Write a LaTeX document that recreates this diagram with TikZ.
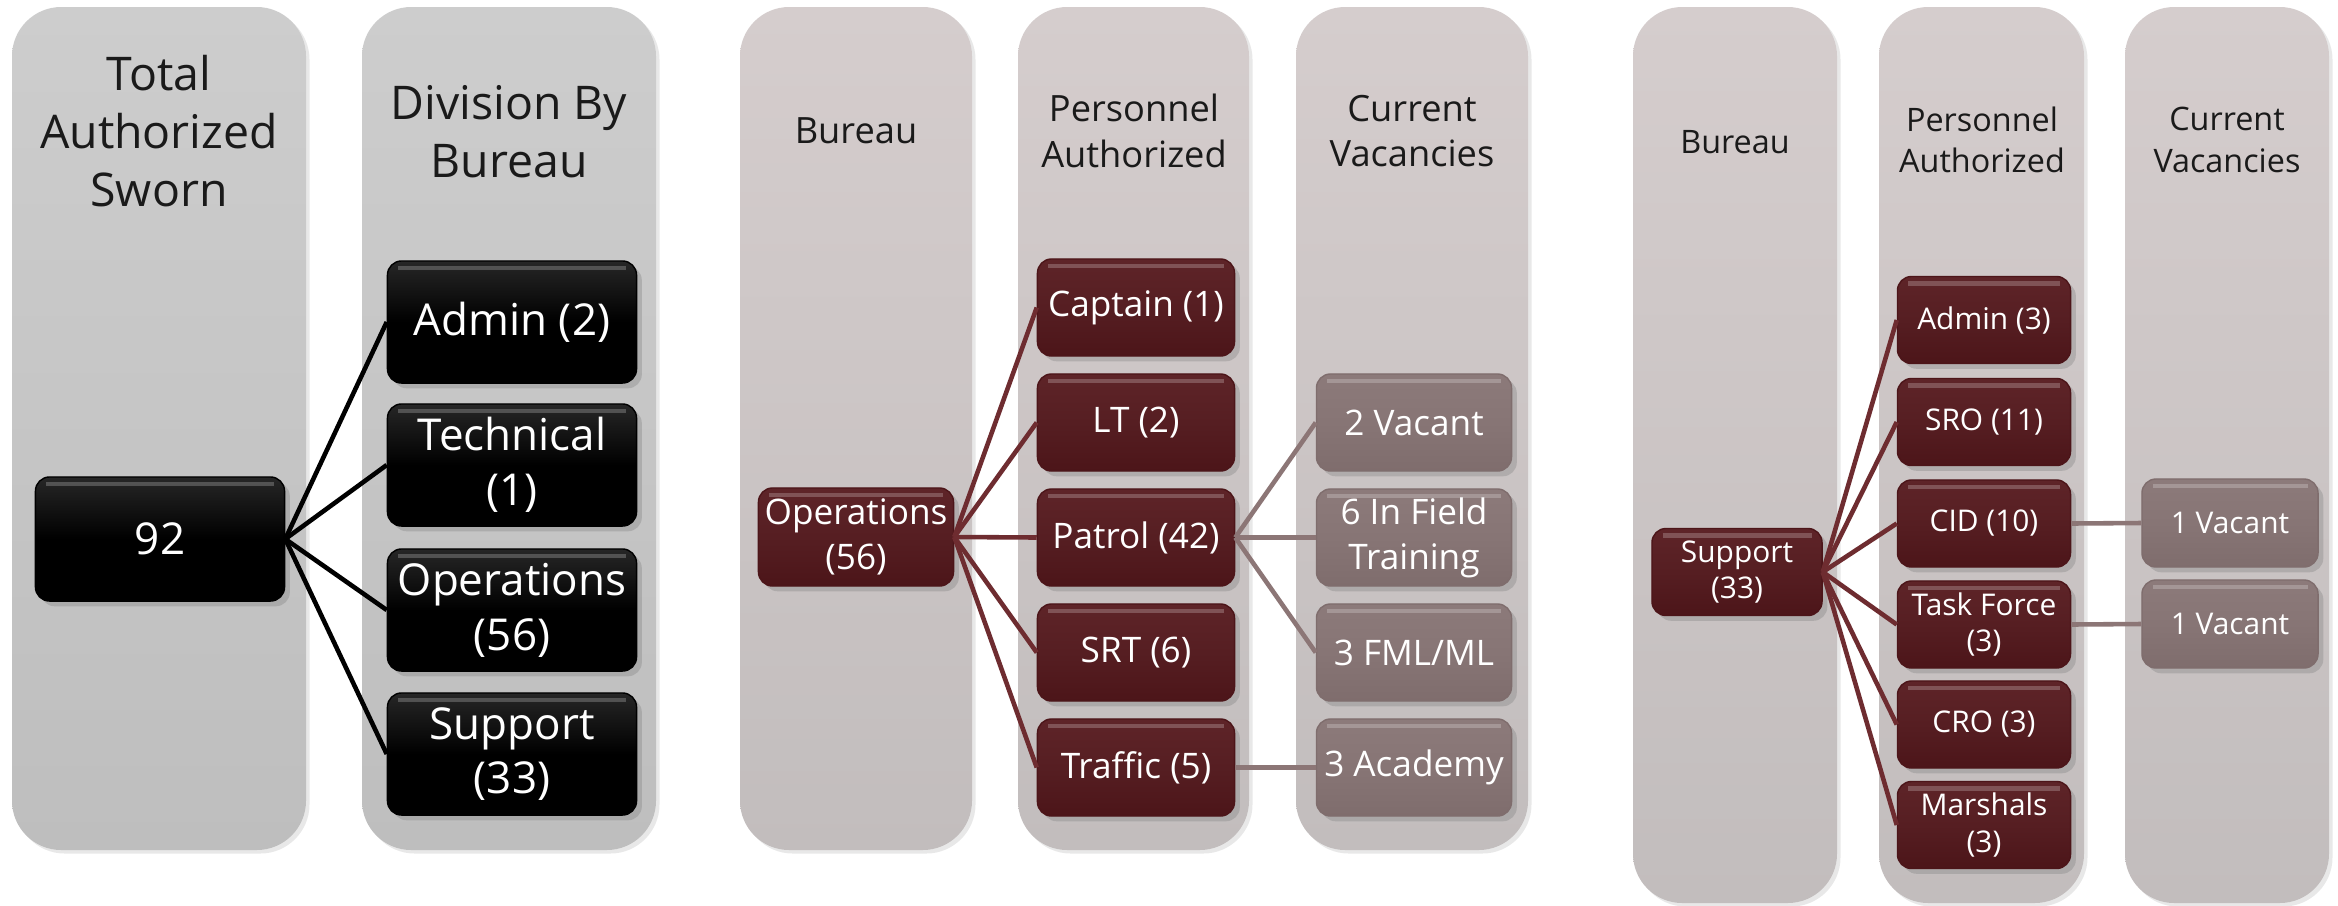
\documentclass[tikz,border=0pt]{standalone}
\usepackage{fontspec}
\setmainfont{Open Sans}
\usetikzlibrary{shadows}
\definecolor{gTop}{HTML}{CDCDCD}
\definecolor{gBot}{HTML}{BEBEBE}
\definecolor{mTop}{HTML}{D5CDCD}
\definecolor{mBot}{HTML}{C2BDBD}
\definecolor{redfill}{HTML}{561E22}
\definecolor{redtop}{HTML}{5E2428}
\definecolor{redbot}{HTML}{4C1519}
\definecolor{redline}{HTML}{6E2C30}
\definecolor{vacfill}{HTML}{877575}
\definecolor{vactop}{HTML}{8C7A7A}
\definecolor{vacbot}{HTML}{7F6D6D}
\definecolor{vacline}{HTML}{8C7676}
\definecolor{titletext}{HTML}{1A1A1A}
\begin{document}
\begin{tikzpicture}[x=0.01cm,y=-0.01cm,
  colgray/.style={rounded corners=14pt, top color=gTop, bottom color=gBot, draw=none,
    drop shadow={opacity=0.18, shadow xshift=1pt, shadow yshift=-1pt}},
  colmauve/.style={rounded corners=14pt, top color=mTop, bottom color=mBot, draw=none,
    drop shadow={opacity=0.18, shadow xshift=1pt, shadow yshift=-1pt}},
  gloss/.style={path picture={
    \draw[white,opacity=0.22,line width=1.2pt]
      ([xshift=3pt,yshift=-2pt]path picture bounding box.north west) --
      ([xshift=-3pt,yshift=-2pt]path picture bounding box.north east);}},
  boxbase/.style={rounded corners=4pt, text=white, align=center, inner sep=1pt, gloss,
    drop shadow={opacity=0.35, shadow xshift=1.5pt, shadow yshift=-1.5pt}},
  blkbox/.style={boxbase, top color=black!85, bottom color=black, middle color=black,
    draw=black, font=\fontsize{12.5}{15.6}\selectfont},
  redbox/.style={boxbase, top color=redtop, bottom color=redbot, middle color=redfill,
    draw=redbot},
  vacbox/.style={boxbase, top color=vactop, bottom color=vacbot, middle color=vacfill,
    draw=vacbot},
  ttlA/.style={text=titletext, align=center, font=\fontsize{13.2}{16.5}\selectfont},
  ttlB/.style={text=titletext, align=center, font=\fontsize{10.3}{13}\selectfont},
  ttlC/.style={text=titletext, align=center, font=\fontsize{9.2}{11.7}\selectfont},
  txtB/.style={font=\fontsize{10}{12.8}\selectfont},
  txtC/.style={font=\fontsize{8.5}{10.5}\selectfont},
  blkline/.style={draw=black, line width=1.3pt},
  rline/.style={draw=redline, line width=1.3pt},
  vline/.style={draw=vacline, line width=1.3pt}
]
\useasboundingbox[fill=white] (0,0) rectangle (2338,905);

% ---------- Panel 1 ----------
\path[colgray] (12,7) rectangle (306,850);
\path[colgray] (362,7) rectangle (656,850);
\node[ttlA] (tA) at (159,131) {Total\\Authorized\\Sworn};
\node[ttlA] (tB) at (509,132) {Division By\\Bureau};

\node[blkbox, minimum width=2.49cm, minimum height=1.24cm] (n92) at (160,539) {92};
\node[blkbox, minimum width=2.49cm, minimum height=1.22cm] (adm) at (512,322) {Admin (2)};
\node[blkbox, minimum width=2.49cm, minimum height=1.22cm] (tec) at (512,465) {Technical\\(1)};
\node[blkbox, minimum width=2.49cm, minimum height=1.22cm] (ops) at (512,610) {Operations\\(56)};
\node[blkbox, minimum width=2.49cm, minimum height=1.22cm] (sup) at (512,754) {Support\\(33)};
\foreach \t in {adm,tec,ops,sup} \draw[blkline] (n92.east) -- (\t.west);

% ---------- Panel 2 ----------
\path[colmauve] (740,7) rectangle (972,850);
\path[colmauve] (1018,7) rectangle (1249,850);
\path[colmauve] (1296,7) rectangle (1528,850);
\node[ttlB] (tC) at (856,131) {Bureau};
\node[ttlB] (tD) at (1134,131) {Personnel\\Authorized};
\node[ttlB] (tE) at (1412,131) {Current\\Vacancies};

\node[redbox, txtB, minimum width=1.95cm, minimum height=0.98cm] (op2) at (856,537) {Operations\\(56)};
\node[redbox, txtB, minimum width=1.97cm, minimum height=0.97cm] (cap) at (1136,307.5) {Captain (1)};
\node[redbox, txtB, minimum width=1.97cm, minimum height=0.97cm] (lt) at (1136,422.5) {LT (2)};
\node[redbox, txtB, minimum width=1.97cm, minimum height=0.97cm] (pat) at (1136,537.5) {Patrol (42)};
\node[redbox, txtB, minimum width=1.97cm, minimum height=0.97cm] (srt) at (1136,652.5) {SRT (6)};
\node[redbox, txtB, minimum width=1.97cm, minimum height=0.97cm] (trf) at (1136,767.5) {Traffic (5)};
\node[vacbox, txtB, minimum width=1.95cm, minimum height=0.97cm] (v2) at (1414,422.5) {2 Vacant};
\node[vacbox, txtB, minimum width=1.95cm, minimum height=0.97cm] (v6) at (1414,537.5) {6 In Field\\Training};
\node[vacbox, txtB, minimum width=1.95cm, minimum height=0.97cm] (v3f) at (1414,652.5) {3 FML/ML};
\node[vacbox, txtB, minimum width=1.95cm, minimum height=0.97cm] (v3a) at (1414,767.5) {3 Academy};
\foreach \t in {cap,lt,pat,srt,trf} \draw[rline] (op2.east) -- (\t.west);
\foreach \t in {v2,v6,v3f} \draw[vline] (pat.east) -- (\t.west);
\draw[vline] (trf.east) -- (v3a.west);

% ---------- Panel 3 ----------
\path[colmauve] (1633,7) rectangle (1837,903);
\path[colmauve] (1879,7) rectangle (2084,903);
\path[colmauve] (2125,7) rectangle (2329,903);
\node[ttlC] (tF) at (1735,142) {Bureau};
\node[ttlC] (tG) at (1982,140) {Personnel\\Authorized};
\node[ttlC] (tH) at (2227,140) {Current\\Vacancies};

\node[redbox, txtC, minimum width=1.70cm, minimum height=0.87cm] (sp3) at (1737,572) {Support\\(33)};
\node[redbox, txtC, minimum width=1.73cm, minimum height=0.87cm] (ad3) at (1984,320) {Admin (3)};
\node[redbox, txtC, minimum width=1.73cm, minimum height=0.87cm] (sro) at (1984,422) {SRO (11)};
\node[redbox, txtC, minimum width=1.73cm, minimum height=0.87cm] (cid) at (1984,523.5) {CID (10)};
\node[redbox, txtC, minimum width=1.73cm, minimum height=0.87cm] (tfc) at (1984,624.5) {Task Force\\(3)};
\node[redbox, txtC, minimum width=1.73cm, minimum height=0.87cm] (cro) at (1984,724.5) {CRO (3)};
\node[redbox, txtC, minimum width=1.73cm, minimum height=0.87cm] (mar) at (1984,825) {Marshals\\(3)};
\node[vacbox, txtC, minimum width=1.76cm, minimum height=0.88cm] (vc1) at (2230,523) {1 Vacant};
\node[vacbox, txtC, minimum width=1.76cm, minimum height=0.88cm] (vc2) at (2230,624) {1 Vacant};
\foreach \t in {ad3,sro,cid,tfc,cro,mar} \draw[rline] (sp3.east) -- (\t.west);
\draw[vline] (cid.east) -- (vc1.west);
\draw[vline] (tfc.east) -- (vc2.west);
\end{tikzpicture}
\end{document}
